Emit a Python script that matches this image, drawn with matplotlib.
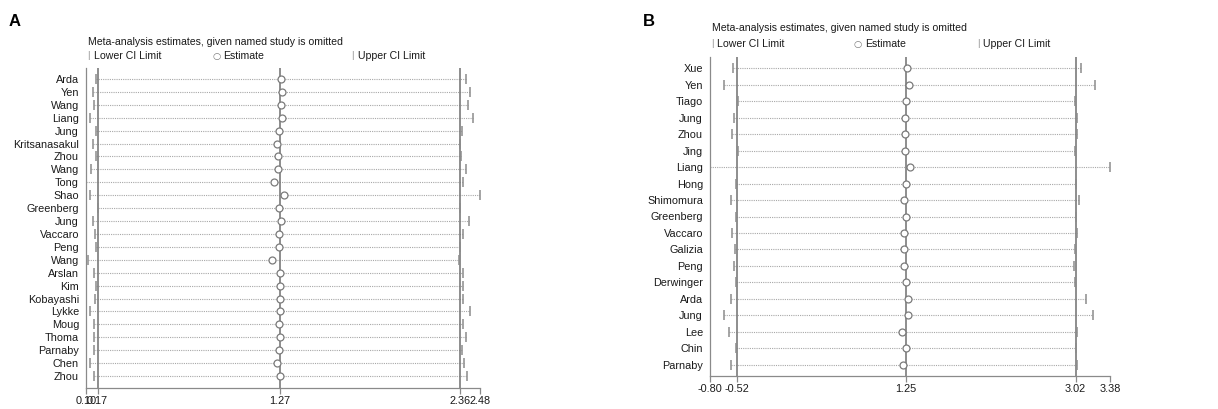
import matplotlib
matplotlib.use("Agg")
import matplotlib.pyplot as plt

plt.rcParams['font.family'] = ['Liberation Sans', 'DejaVu Sans']

# ---- Panel A data ----
studies_a = ["Arda", "Yen", "Wang", "Liang", "Jung", "Kritsanasakul", "Zhou", "Wang",
             "Tong", "Shao", "Greenberg", "Jung", "Vaccaro", "Peng", "Wang", "Arslan",
             "Kim", "Kobayashi", "Lykke", "Moug", "Thoma", "Parnaby", "Chen", "Zhou"]
est_a = [1.278, 1.282, 1.278, 1.282, 1.268, 1.254, 1.262, 1.260, 1.238, 1.298, 1.268, 1.278,
         1.268, 1.268, 1.226, 1.270, 1.270, 1.270, 1.272, 1.266, 1.272, 1.268, 1.252, 1.272]
lower_a = [0.162, 0.144, 0.146, 0.122, 0.162, 0.144, 0.162, 0.128, 0.100, 0.124, 0.170, 0.140,
           0.154, 0.162, 0.110, 0.150, 0.158, 0.154, 0.122, 0.148, 0.150, 0.150, 0.126, 0.150]
upper_a = [2.396, 2.420, 2.408, 2.440, 2.374, 2.360, 2.366, 2.398, 2.376, 2.480, 2.360, 2.414,
           2.376, 2.360, 2.354, 2.380, 2.380, 2.380, 2.418, 2.380, 2.394, 2.370, 2.384, 2.400]
ref_a = [0.17, 1.27, 2.36]
ticks_a = [0.10, 0.17, 1.27, 2.36, 2.48]
ticklabels_a = ["0.10", "0.17", "1.27", "2.36", "2.48"]

# ---- Panel B data ----
studies_b = ["Xue", "Yen", "Tiago", "Jung", "Zhou", "Jing", "Liang", "Hong", "Shimomura",
             "Greenberg", "Vaccaro", "Galizia", "Peng", "Derwinger", "Arda", "Jung", "Lee",
             "Chin", "Parnaby"]
est_b = [1.255, 1.283, 1.248, 1.241, 1.234, 1.241, 1.290, 1.245, 1.227,
         1.245, 1.230, 1.230, 1.227, 1.245, 1.270, 1.273, 1.210, 1.245, 1.220]
lower_b = [-0.556, -0.650, -0.510, -0.549, -0.567, -0.510, -0.800, -0.528, -0.584,
           -0.528, -0.567, -0.539, -0.552, -0.525, -0.580, -0.657, -0.598, -0.528, -0.580]
upper_b = [3.073, 3.226, 3.010, 3.030, 3.040, 3.014, 3.380, 3.020, 3.055,
           3.020, 3.040, 3.010, 3.000, 3.017, 3.130, 3.200, 3.030, 3.020, 3.030]
ref_b = [-0.52, 1.25, 3.02]
ticks_b = [-0.80, -0.52, 1.25, 3.02, 3.38]
ticklabels_b = ["-0.80", "-0.52", "1.25", "3.02", "3.38"]

W, H = 1218, 409
fig = plt.figure(figsize=(W / 100, H / 100), dpi=100)

AX_COL = "#8a8a8a"
REF_COL = "#7a7a7a"
DOT_COL = "#a8a8a8"
MK_COL = "#8c8c8c"
TXT = "#1a1a1a"
FS = 7.8
FS_T = 7.6


def px_rect(x0, y0, x1, y1):
    return [x0 / W, 1 - y1 / H, (x1 - x0) / W, (y1 - y0) / H]


def panel(rect, names, est, lo, hi, refs, ticks, tlabels, xlim, ypad_top, ypad_bot):
    ax = fig.add_axes(rect)
    n = len(names)
    ys = list(range(n))
    for y, l, u in zip(ys, lo, hi):
        ax.plot([l, u], [y, y], color=DOT_COL, lw=0.8, ls=(0, (1, 1)), zorder=1)
    for r in refs:
        ax.axvline(r, color=REF_COL, lw=1.2, zorder=2)
    ax.plot(lo, ys, ls="none", marker="|", ms=6.5, mew=1.1, color=MK_COL, zorder=3)
    ax.plot(hi, ys, ls="none", marker="|", ms=6.5, mew=1.1, color=MK_COL, zorder=3)
    ax.plot(est, ys, ls="none", marker="o", ms=5, mew=0.9, mfc="white", mec="#7a7a7a", zorder=4)
    ax.set_xlim(*xlim)
    ax.set_ylim(n - 1 + ypad_bot, -ypad_top)
    ax.set_yticks(ys)
    ax.set_yticklabels(names, fontsize=FS, color=TXT)
    ax.tick_params(axis="y", length=0, pad=5)
    ax.set_xticks(ticks)
    ax.set_xticklabels(tlabels, fontsize=FS, color=TXT)
    ax.tick_params(axis="x", length=4, width=0.9, color=AX_COL, pad=2)
    for s in ["top", "right"]:
        ax.spines[s].set_visible(False)
    for s in ["left", "bottom"]:
        ax.spines[s].set_color(AX_COL)
        ax.spines[s].set_linewidth(0.9)
    ax.set_facecolor("none")
    return ax


panel(px_rect(86, 68, 480, 388), studies_a, est_a, lower_a, upper_a, ref_a,
      ticks_a, ticklabels_a, (0.10, 2.48), 0.85, 0.93)
panel(px_rect(710, 57, 1110, 376), studies_b, est_b, lower_b, upper_b, ref_b,
      ticks_b, ticklabels_b, (-0.80, 3.38), 0.67, 0.67)


def ftext(x, y, s, **kw):
    fig.text(x / W, 1 - y / H, s, **kw)


# panel letters
ftext(9, 22, "A", fontsize=12, fontweight="bold", va="center", ha="left", color="black")
ftext(643, 22, "B", fontsize=12, fontweight="bold", va="center", ha="left", color="black")

# titles and legends
title = "Meta-analysis estimates, given named study is omitted"
for (tx, ty, ly, xs) in [(88, 42, 56, (88, 94, 217, 223, 352, 358)),
                         (712, 28, 44, (712, 717, 858, 865, 978, 983))]:
    ftext(tx, ty, title, fontsize=FS_T, va="center", ha="left", color=TXT)
    ftext(xs[0], ly, "|", fontsize=FS - 1, va="center", ha="center", color=MK_COL)
    ftext(xs[1], ly, "Lower CI Limit", fontsize=FS_T, va="center", ha="left", color=TXT)
    ftext(xs[2], ly, "\u25CB", fontsize=FS - 1, va="center", ha="center", color="#7a7a7a",
          family=["DejaVu Sans"])
    ftext(xs[3], ly, "Estimate", fontsize=FS_T, va="center", ha="left", color=TXT)
    ftext(xs[4], ly, "|", fontsize=FS - 1, va="center", ha="center", color=MK_COL)
    ftext(xs[5], ly, "Upper CI Limit", fontsize=FS_T, va="center", ha="left", color=TXT)

fig.savefig("out.png", dpi=100, facecolor="white")
